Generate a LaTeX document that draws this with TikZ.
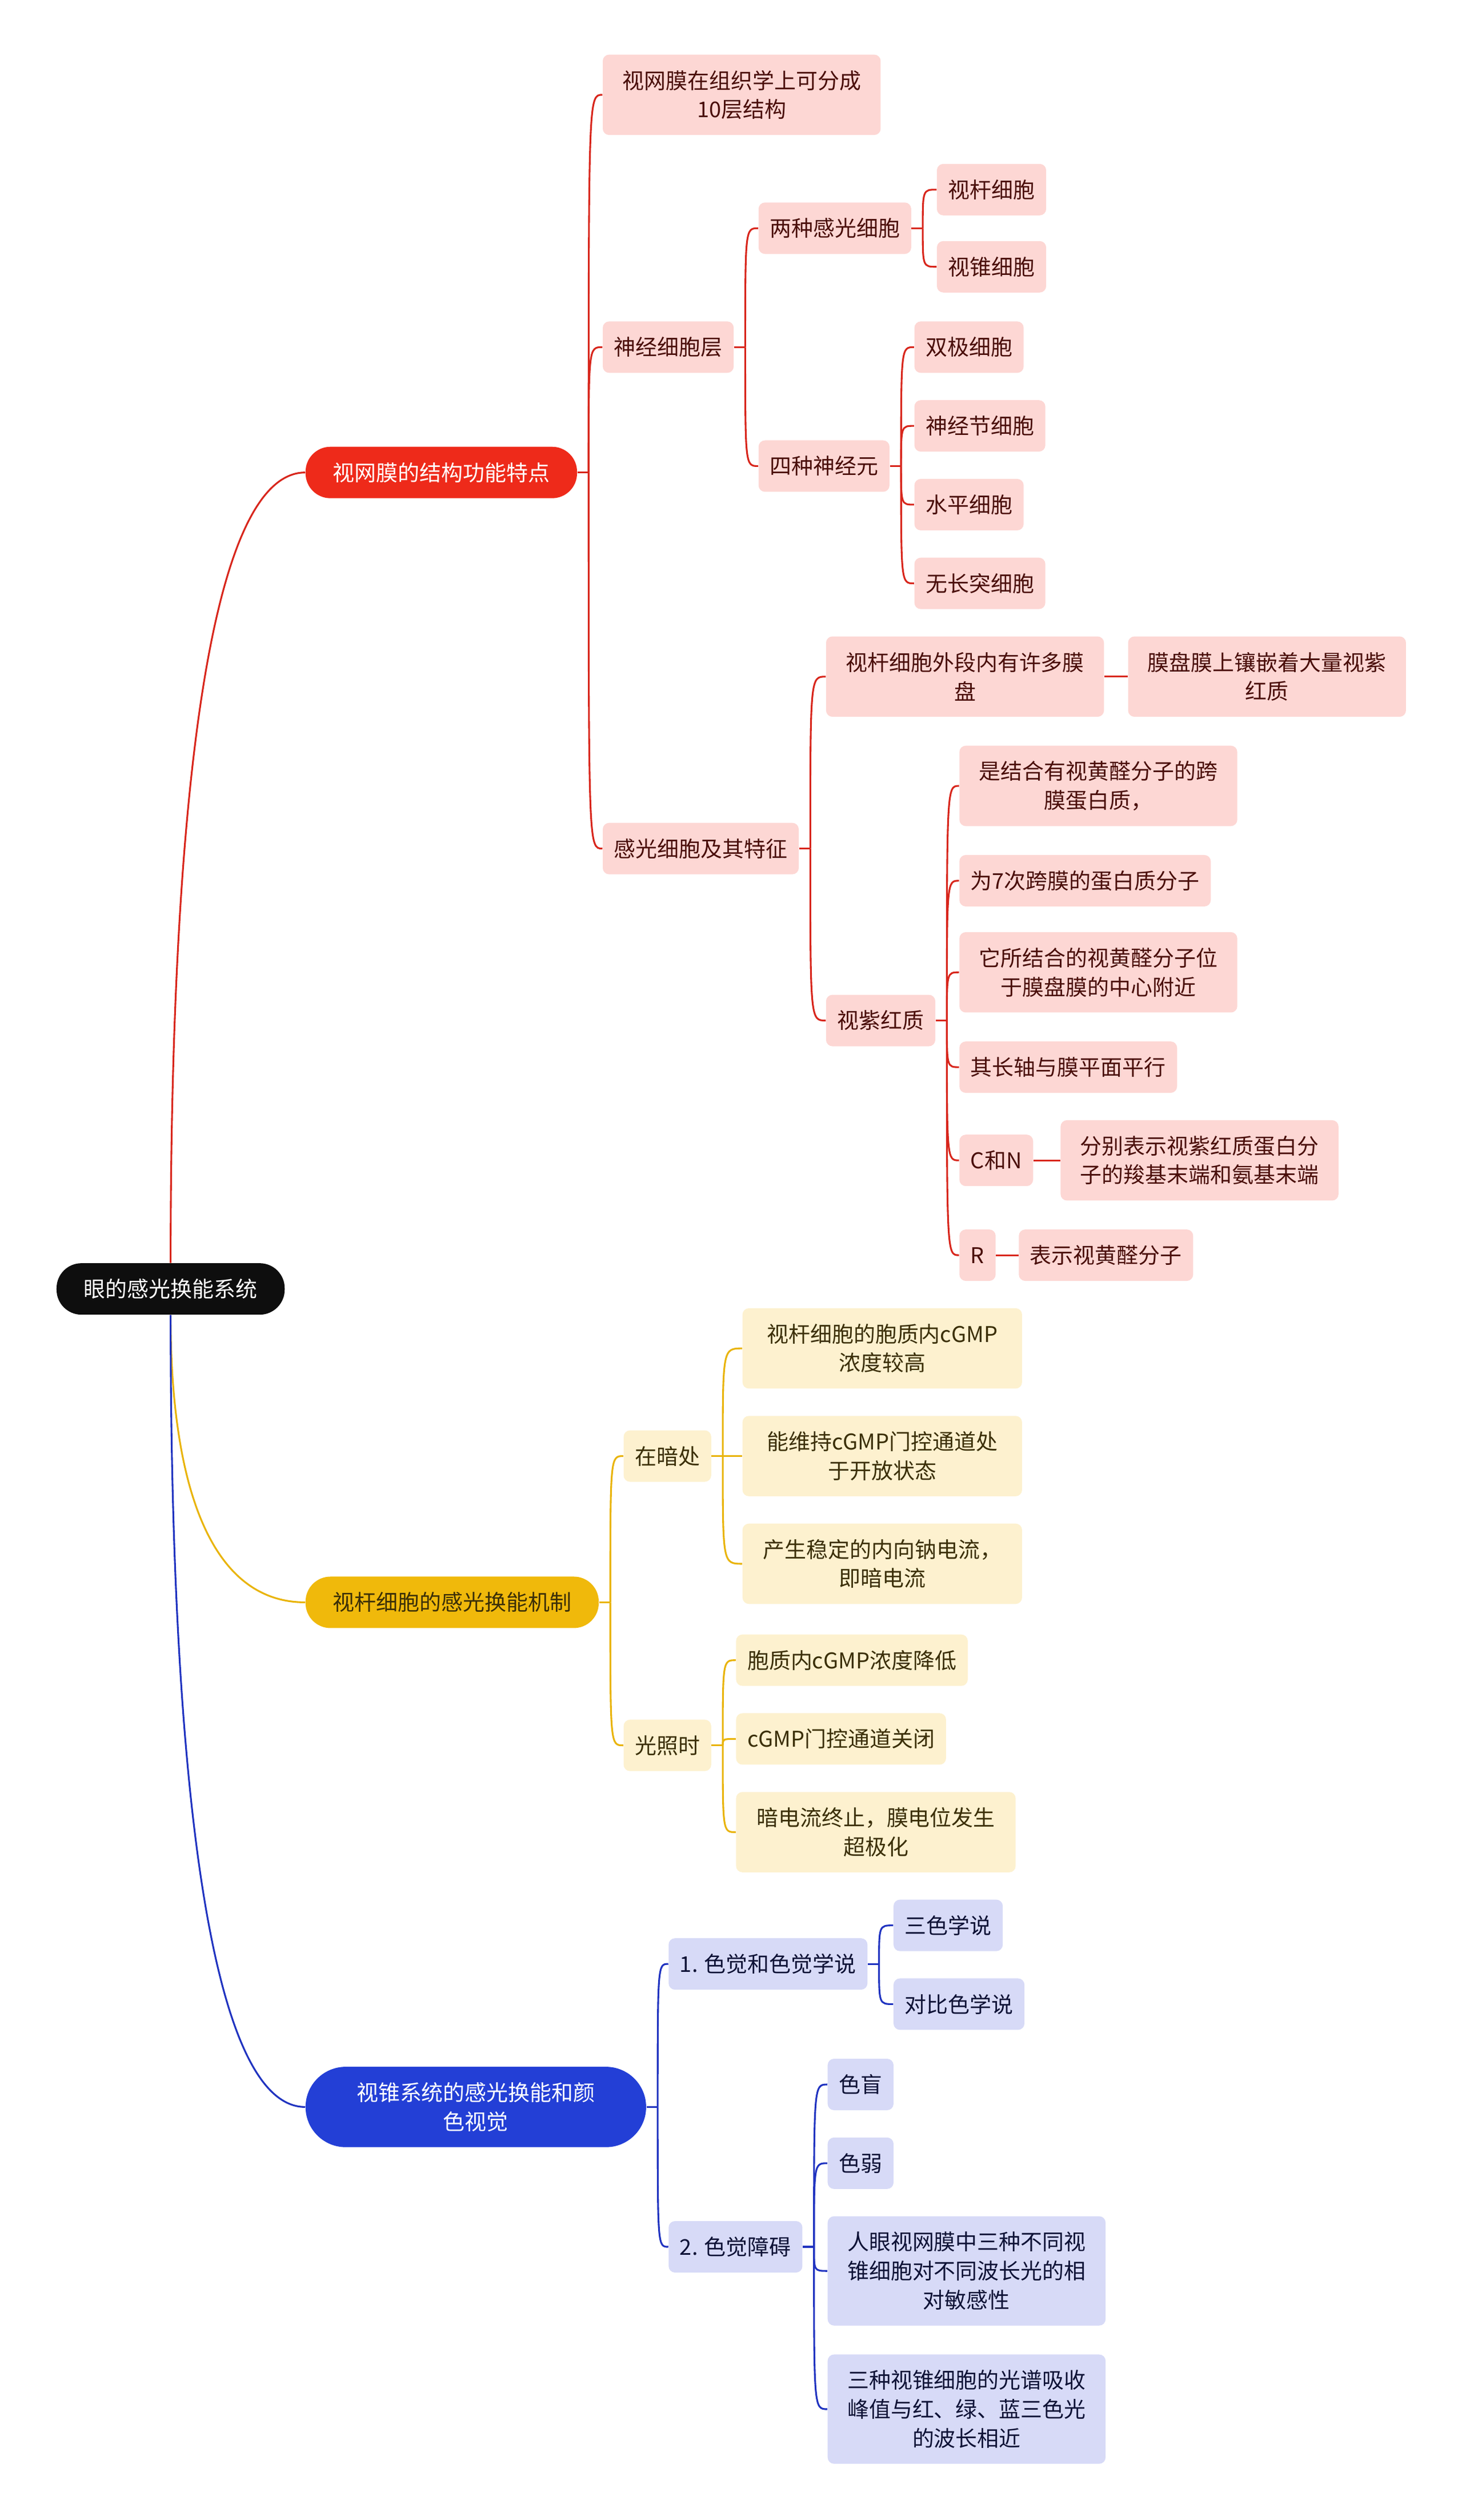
\documentclass[tikz,border=0pt]{standalone}
\usepackage{fontspec}
\setmainfont{Noto Sans CJK SC}
\usepackage{tikz}
\usetikzlibrary{calc}
\definecolor{rootdark}{HTML}{0E0E0E}
\definecolor{retinared}{HTML}{EE2A1A}
\definecolor{redline}{HTML}{D8261C}
\definecolor{redfill}{HTML}{FDD7D4}
\definecolor{redtext}{HTML}{4A0E0A}
\definecolor{rodgold}{HTML}{F0B90B}
\definecolor{goldline}{HTML}{E9B40C}
\definecolor{goldfill}{HTML}{FDF1CF}
\definecolor{goldtext}{HTML}{3B2F08}
\definecolor{coneblue}{HTML}{233FD6}
\definecolor{blueline}{HTML}{2033C0}
\definecolor{bluefill}{HTML}{D7DAF7}
\definecolor{bluetext}{HTML}{0E1236}

\tikzset{
  every node/.style={font=\fontsize{13.5}{18}\selectfont, align=center, inner ysep=0pt, anchor=west},
  pill/.style={rounded corners=15.5pt, minimum height=32pt, inner xsep=17pt},
  leaf/.style={rounded corners=4pt, minimum height=32pt, inner xsep=7pt},
  twoline/.style={minimum width=173pt, minimum height=50pt, inner xsep=11pt},
  threeline/.style={minimum width=173pt, minimum height=68pt, inner xsep=11pt},
  redleaf/.style={leaf, fill=redfill, text=redtext},
  goldleaf/.style={leaf, fill=goldfill, text=goldtext},
  blueleaf/.style={leaf, fill=bluefill, text=bluetext},
  redlink/.style={draw=redline, line width=1.1pt},
  goldlink/.style={draw=goldline, line width=1.1pt},
  bluelink/.style={draw=blueline, line width=1.1pt}
}

% parent, children, link style
\newcommand{\fork}[3]{%
  \coordinate (#1-b) at ($(#1.east)+(7,0)$);
  \draw[#3] (#1.east) -- (#1-b);
  \foreach \c in {#2}
    \draw[#3] (#1-b) .. controls (#1-b |- \c.west) .. (\c.west);
}

\begin{document}
\begin{tikzpicture}[x=1pt, y=-1pt]
  \fill[white] (0,0) rectangle (910,1568);
  \useasboundingbox (0,0) rectangle (910,1568);

  % Root and main topics
  \node[pill, fill=rootdark, text=white] (root) at (35,802) {眼的感光换能系统};
  \node[pill, fill=retinared, text=white] (retina) at (190,294) {视网膜的结构功能特点};
  \node[pill, fill=rodgold, text=goldtext] (rod) at (190,997) {视杆细胞的感光换能机制};
  \node[pill, fill=coneblue, text=white, minimum width=212pt, minimum height=50pt, rounded corners=25pt] (cone) at (190,1311) {视锥系统的感光换能和颜\\色视觉};

  % Root links
  \draw[redlink] (root.north) .. controls ($(root.north)!0.58!(root.north |- retina.west)$) and ($(retina.west)+(-60,0)$) .. (retina.west);
  \draw[goldlink] (root.south) .. controls ($(root.south)!0.58!(root.south |- rod.west)$) and ($(rod.west)+(-60,0)$) .. (rod.west);
  \draw[bluelink] (root.south) .. controls ($(root.south)!0.58!(root.south |- cone.west)$) and ($(cone.west)+(-60,0)$) .. (cone.west);

  % Retina branch
  \node[redleaf, twoline] (layers) at (375,59) {视网膜在组织学上可分成\\10层结构};
  \node[redleaf] (neural) at (375,216) {神经细胞层};
  \node[redleaf] (photo) at (375,528) {感光细胞及其特征};

  \node[redleaf] (twocells) at (472,142) {两种感光细胞};
  \node[redleaf] (rodcell) at (583,118) {视杆细胞};
  \node[redleaf] (conecell) at (583,166) {视锥细胞};

  \node[redleaf] (neurons) at (472,290) {四种神经元};
  \node[redleaf] (bipolar) at (569,216) {双极细胞};
  \node[redleaf] (ganglion) at (569,265) {神经节细胞};
  \node[redleaf] (horizontal) at (569,314) {水平细胞};
  \node[redleaf] (amacrine) at (569,363) {无长突细胞};

  \node[redleaf, twoline] (discs) at (514,421) {视杆细胞外段内有许多膜\\盘};
  \node[redleaf, twoline] (discmem) at (702,421) {膜盘膜上镶嵌着大量视紫\\红质};
  \node[redleaf] (rhod) at (514,635) {视紫红质};
  \node[redleaf, twoline] (rhodA) at (597,489) {是结合有视黄醛分子的跨\\膜蛋白质，};
  \node[redleaf] (rhodB) at (597,548) {为7次跨膜的蛋白质分子};
  \node[redleaf, twoline] (rhodC) at (597,605) {它所结合的视黄醛分子位\\于膜盘膜的中心附近};
  \node[redleaf] (rhodD) at (597,664) {其长轴与膜平面平行};
  \node[redleaf] (cn) at (597,722) {C和N};
  \node[redleaf, twoline] (cnnote) at (660,722) {分别表示视紫红质蛋白分\\子的羧基末端和氨基末端};
  \node[redleaf] (rr) at (597,781) {R};
  \node[redleaf] (rnote) at (634,781) {表示视黄醛分子};

  \fork{retina}{layers,neural,photo}{redlink}
  \fork{neural}{twocells,neurons}{redlink}
  \fork{twocells}{rodcell,conecell}{redlink}
  \fork{neurons}{bipolar,ganglion,horizontal,amacrine}{redlink}
  \fork{photo}{discs,rhod}{redlink}
  \fork{discs}{discmem}{redlink}
  \fork{rhod}{rhodA,rhodB,rhodC,rhodD,cn,rr}{redlink}
  \fork{cn}{cnnote}{redlink}
  \fork{rr}{rnote}{redlink}

  % Rod branch
  \node[goldleaf] (dark) at (388,906) {在暗处};
  \node[goldleaf, twoline, minimum width=174pt] (darkA) at (462,839) {视杆细胞的胞质内cGMP\\浓度较高};
  \node[goldleaf, twoline, minimum width=174pt] (darkB) at (462,906) {能维持cGMP门控通道处\\于开放状态};
  \node[goldleaf, twoline, minimum width=174pt] (darkC) at (462,973) {产生稳定的内向钠电流，\\即暗电流};
  \node[goldleaf] (light) at (388,1086) {光照时};
  \node[goldleaf] (lightA) at (458,1033) {胞质内cGMP浓度降低};
  \node[goldleaf] (lightB) at (458,1082) {cGMP门控通道关闭};
  \node[goldleaf, twoline, minimum width=174pt] (lightC) at (458,1140) {暗电流终止，膜电位发生\\超极化};

  \fork{rod}{dark,light}{goldlink}
  \fork{dark}{darkA,darkB,darkC}{goldlink}
  \fork{light}{lightA,lightB,lightC}{goldlink}

  % Cone branch
  \node[blueleaf] (theory) at (416,1222) {1. 色觉和色觉学说};
  \node[blueleaf] (trichro) at (556,1198) {三色学说};
  \node[blueleaf] (opponent) at (556,1247) {对比色学说};
  \node[blueleaf] (defect) at (416,1398) {2. 色觉障碍};
  \node[blueleaf] (blind) at (515,1297) {色盲};
  \node[blueleaf] (weak) at (515,1346) {色弱};
  \node[blueleaf, threeline] (defectA) at (515,1413) {人眼视网膜中三种不同视\\锥细胞对不同波长光的相\\对敏感性};
  \node[blueleaf, threeline] (defectB) at (515,1499) {三种视锥细胞的光谱吸收\\峰值与红、绿、蓝三色光\\的波长相近};

  \fork{cone}{theory,defect}{bluelink}
  \fork{theory}{trichro,opponent}{bluelink}
  \fork{defect}{blind,weak,defectA,defectB}{bluelink}
\end{tikzpicture}
\end{document}
